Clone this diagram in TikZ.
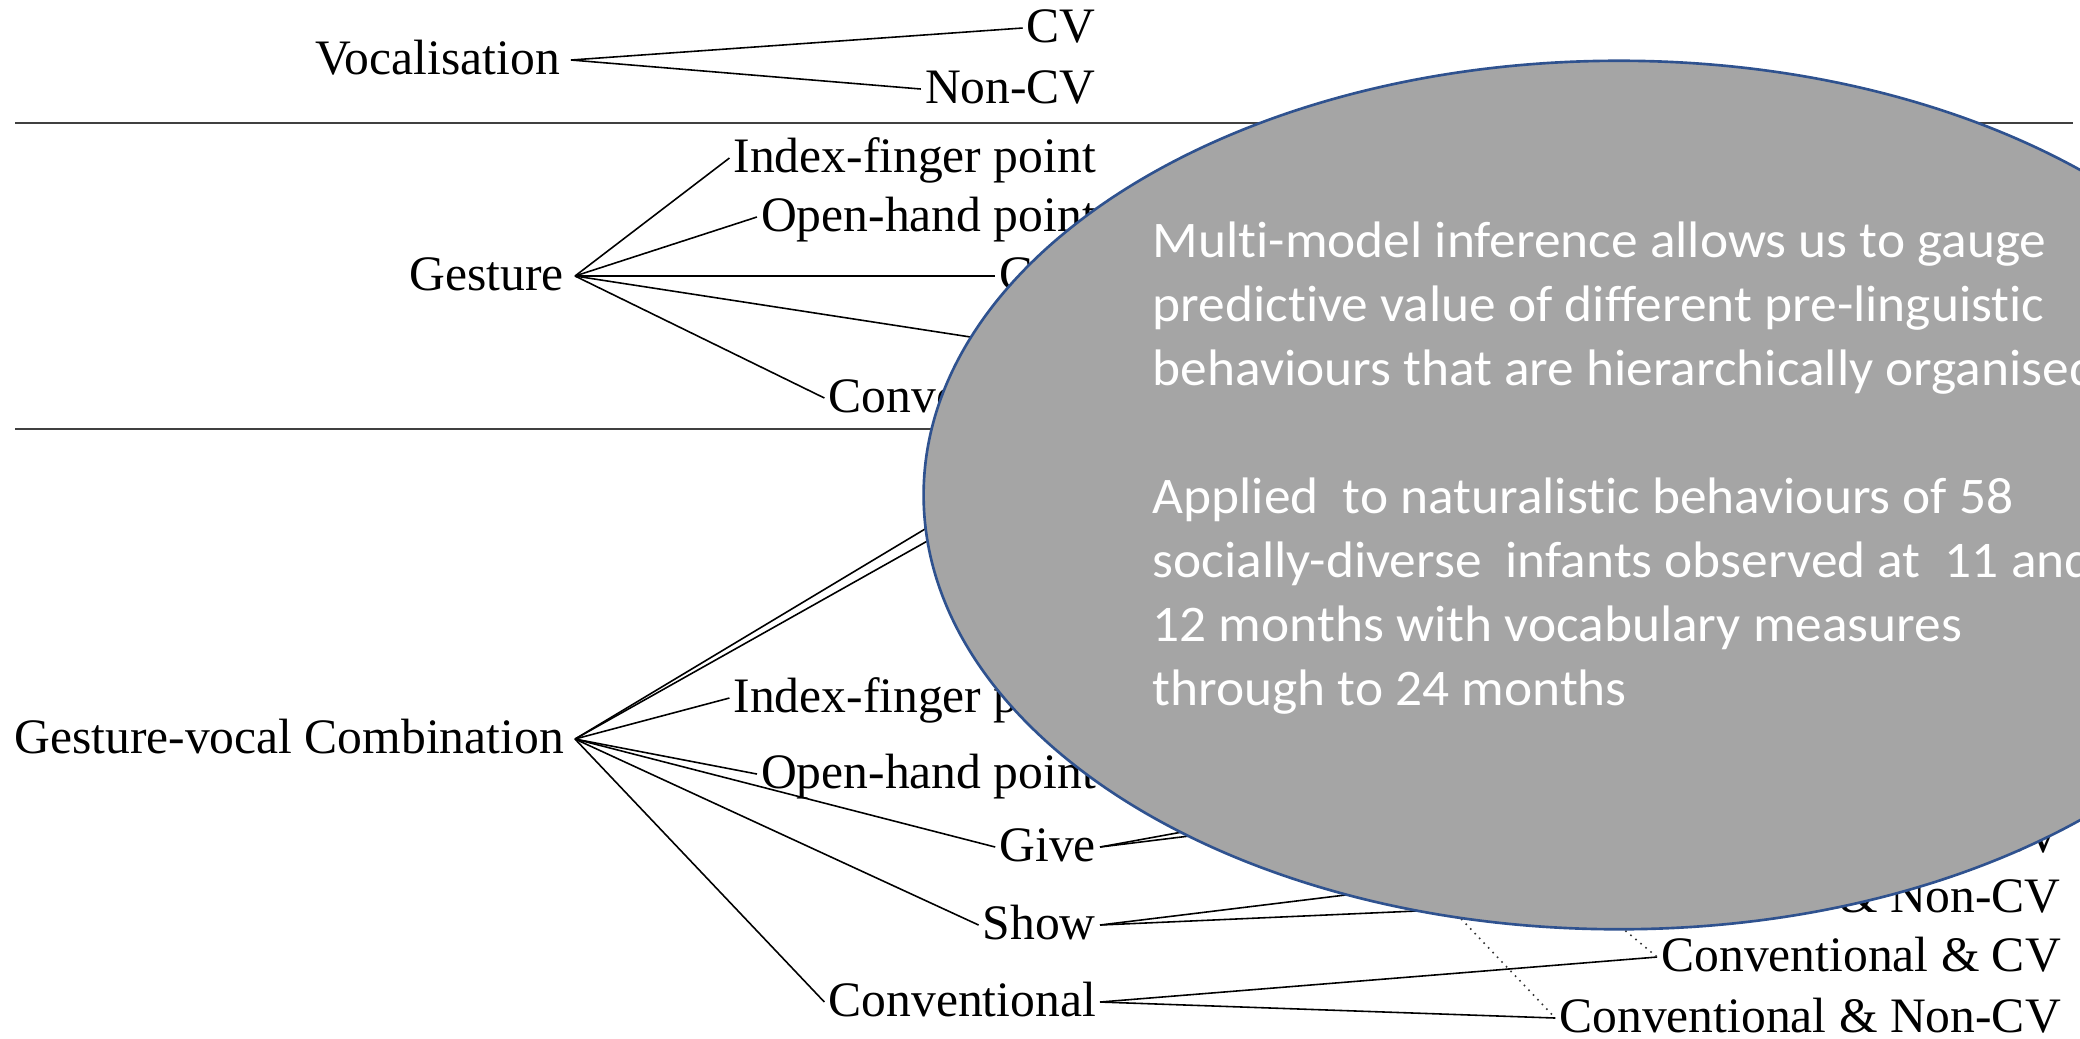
\documentclass[tikz,border=0pt]{standalone}
\usepackage{fontspec}
\setmainfont{Liberation Serif}
\newfontfamily\calib[Ligatures=NoCommon, FakeStretch=1.04]{Carlito}
\usetikzlibrary{shapes.geometric}
\definecolor{bubblefill}{HTML}{A5A5A5}
\definecolor{bubbleline}{HTML}{2F528F}
\begin{document}
\begin{tikzpicture}[x=0.01cm, y=-0.01cm,
  lbl/.style={font=\fontsize{14.1}{16}\selectfont, inner xsep=1pt, inner ysep=0pt, text height=8.4pt, text depth=0pt, anchor=east},
  rootlbl/.style={lbl, inner xsep=3pt},
  conn/.style={line width=0.45pt, black},
  sepline/.style={line width=0.6pt, black!75},
  dotconn/.style={line width=0.45pt, black!80, dash pattern=on 0.45pt off 1.4pt},
  bubble/.style={ellipse, draw=bubbleline, fill=bubblefill, line width=0.75pt, minimum width=13.90cm, minimum height=8.68cm, inner sep=0pt}
]
\useasboundingbox (0,0) rectangle (2080,1038);
\clip (0,0) rectangle (2080,1038);

% separators
\coordinate (sepAl) at (15,123);
\coordinate (sepAr) at (2073,123);
\coordinate (sepBl) at (15,429);
\coordinate (sepBr) at (2073,429);
\draw[sepline] (sepAl) -- (sepAr);
\draw[sepline] (sepBl) -- (sepBr);

% level one
\node[rootlbl] (voc) at (571,60) {Vocalisation};
\node[rootlbl] (ges) at (575,276) {Gesture};
\node[rootlbl] (gvc) at (575,739) {Gesture-vocal Combination};

% vocalisation children
\node[lbl] (vcv) at (1100,28) {CV};
\node[lbl] (vncv) at (1100,89) {Non-CV};

% gesture children
\node[lbl] (gidx) at (1100,158) {Index-finger point};
\node[lbl] (gopen) at (1100,217) {Open-hand point};
\node[lbl] (ggive) at (1100,276) {Give};
\coordinate (gshow) at (990,340);
\node[lbl] (gconv) at (1100,398) {Conventional};

% gesture-vocal combination children
\node[lbl] (cidx) at (1100,698) {Index-finger point};
\node[lbl] (copen) at (1100,774) {Open-hand point};
\node[lbl] (cgive) at (1100,847) {Give};
\node[lbl] (cshow) at (1100,925) {Show};
\node[lbl] (cconv) at (1100,1002) {Conventional};

% third level
\node[lbl] (showcv) at (2065,838) {Show \& CV};
\node[lbl] (showncv) at (2065,898) {Show \& Non-CV};
\node[lbl] (convcv) at (2065,957) {Conventional \& CV};
\node[lbl] (convncv) at (2065,1018) {Conventional \& Non-CV};

% hidden end points (behind the ellipse)
\coordinate (gvchA) at (1100,424);
\coordinate (gvchB) at (1100,444);
\coordinate (givecv) at (1834,713);
\coordinate (givencv) at (1733,769);
\coordinate (dotA) at (1300,749);
\coordinate (dotB) at (1500,827);

% connectors
\draw[conn] (voc.east) -- (vcv.west);
\draw[conn] (voc.east) -- (vncv.west);
\foreach \t in {gidx,gopen,ggive,gconv} \draw[conn] (ges.east) -- (\t.west);
\draw[conn] (ges.east) -- (gshow);
\draw[conn] (gvc.east) -- (gvchA);
\draw[conn] (gvc.east) -- (gvchB);
\foreach \t in {cidx,copen,cgive,cshow,cconv} \draw[conn] (gvc.east) -- (\t.west);
\draw[conn] (cgive.east) -- (givecv);
\draw[conn] (cgive.east) -- (givencv);
\draw[conn] (cshow.east) -- (showcv.west);
\draw[conn] (cshow.east) -- (showncv.west);
\draw[conn] (cconv.east) -- (convcv.west);
\draw[conn] (cconv.east) -- (convncv.west);
\draw[dotconn] (dotA) -- (convncv.west);
\draw[dotconn] (dotB) -- (convcv.west);

% overlay ellipse
\node[bubble] (bub) at (1619,495) {};
\node[anchor=base west, inner sep=0pt, text=white, font=\calib\fontsize{14.6}{18.2}\selectfont] (btext) at (1152,257) {\vtop{%
\hbox{Multi-model inference allows us to gauge}
\hbox{predictive value of different pre-linguistic}
\hbox{behaviours that are hierarchically organised}
\hbox{}
\hbox{Applied\ \ to naturalistic behaviours of 58}
\hbox{socially-diverse\ \ infants observed at\ \ 11 and}
\hbox{12 months with vocabulary measures}
\hbox{through to 24 months}}};
\end{tikzpicture}
\end{document}
